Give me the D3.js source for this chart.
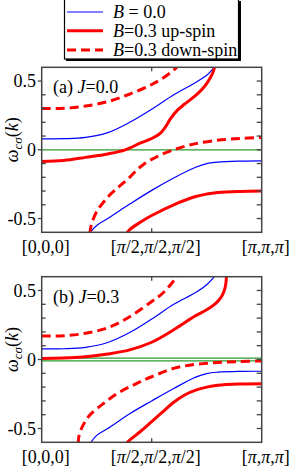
<!DOCTYPE html>
<html>
<head>
<meta charset="utf-8">
<script src="https://cdn.jsdelivr.net/npm/d3@7"></script>
<style>
  body { margin: 0; background: #fff; }
  svg { display: block; }
  text { font-family: "Liberation Serif", "Times New Roman", serif; font-size: 18px; fill: #000; }
</style>
</head>
<body>
<div id="chart"></div>
<script>
// k is given as a fraction of pi along [0,0,0] -> [pi,pi,pi]
var xTicks = [0, 0.5, 1];
var xTickLabels = ["[0,0,0]", "[π/2,π/2,π/2]", "[π,π,π]"];
var yMajor = [-0.5, 0, 0.5];
var yMajorLabels = ["-0.5", "0", "0.5"];
var yMinor = [-0.4, -0.3, -0.2, -0.1, 0.1, 0.2, 0.3, 0.4];

// (a) J = 0.0
var a_B0_up = [[0,0.08],[0.1,0.081],[0.2,0.09],[0.3,0.125],[0.4,0.2],[0.5,0.295],[0.6,0.4],[0.7,0.49],[0.75,0.542],[0.79,0.61]];
var a_B0_lo = [[0.215,-0.61],[0.25,-0.55],[0.3,-0.5],[0.4,-0.395],[0.5,-0.295],[0.6,-0.205],[0.7,-0.127],[0.75,-0.1],[0.8,-0.089],[0.9,-0.082],[1,-0.08]];
var a_upSpin_up = [[0,-0.085],[0.1,-0.078],[0.2,-0.055],[0.3,-0.03],[0.38,0],[0.45,0.05],[0.5,0.082],[0.535,0.115],[0.56,0.16],[0.585,0.225],[0.615,0.285],[0.65,0.333],[0.7,0.395],[0.74,0.46],[0.765,0.52],[0.78,0.57],[0.787,0.61]];
var a_upSpin_lo = [[0.384,-0.61],[0.4,-0.58],[0.45,-0.525],[0.5,-0.478],[0.6,-0.4],[0.7,-0.34],[0.75,-0.322],[0.8,-0.311],[0.9,-0.303],[1,-0.3]];
var a_dnSpin_up = [[0,0.3],[0.1,0.302],[0.2,0.318],[0.3,0.35],[0.4,0.405],[0.5,0.475],[0.55,0.52],[0.6,0.58],[0.62,0.61]];
var a_dnSpin_lo = [[0.219,-0.61],[0.225,-0.55],[0.25,-0.45],[0.3,-0.345],[0.35,-0.27],[0.4,-0.2],[0.43,-0.15],[0.46,-0.11],[0.5,-0.07],[0.55,-0.03],[0.6,0],[0.65,0.025],[0.7,0.045],[0.8,0.07],[0.9,0.082],[1,0.09]];
var a_zero = [0];

// (b) J = 0.3
var b_B0_up = [[0,0.077],[0.1,0.078],[0.2,0.088],[0.3,0.123],[0.4,0.195],[0.5,0.293],[0.6,0.4],[0.7,0.485],[0.75,0.542],[0.79,0.61]];
var b_B0_lo = [[0.22,-0.61],[0.25,-0.55],[0.3,-0.5],[0.4,-0.393],[0.5,-0.3],[0.6,-0.21],[0.7,-0.128],[0.75,-0.102],[0.8,-0.092],[0.9,-0.086],[1,-0.085]];
var b_upSpin_up = [[0,0.008],[0.1,0.01],[0.2,0.02],[0.3,0.04],[0.4,0.07],[0.5,0.125],[0.6,0.215],[0.7,0.318],[0.75,0.36],[0.79,0.405],[0.815,0.45],[0.83,0.5],[0.837,0.55],[0.84,0.61]];
var b_upSpin_lo = [[0.384,-0.61],[0.4,-0.585],[0.45,-0.52],[0.5,-0.45],[0.55,-0.38],[0.6,-0.31],[0.65,-0.257],[0.7,-0.222],[0.75,-0.2],[0.8,-0.186],[0.9,-0.177],[1,-0.175]];
var b_dnSpin_up = [[0,0.17],[0.1,0.172],[0.2,0.19],[0.3,0.23],[0.4,0.31],[0.5,0.42],[0.55,0.48],[0.6,0.57],[0.62,0.61]];
var b_dnSpin_lo = [[0.166,-0.61],[0.17,-0.55],[0.19,-0.47],[0.22,-0.4],[0.28,-0.32],[0.35,-0.24],[0.43,-0.175],[0.5,-0.125],[0.6,-0.064],[0.7,-0.035],[0.8,-0.022],[0.9,-0.015],[1,-0.01]];
var b_zero = [0.01, -0.01];

var legendLabels = [["B", " = 0.0"], ["B", "=0.3 up-spin"], ["B", "=0.3 down-spin"]];

var styles = {
  B0: { color: "#0000ff", width: 1.2, dash: null },
  up: { color: "#ff0000", width: 3, dash: null },
  dn: { color: "#ff0000", width: 3, dash: "9,5" }
};

var panels = [
  { id: "a", label: "(a) ", J: "=0.0", top: 67.3, bottom: 232.3, zero: a_zero,
    series: [[a_B0_up,"B0"],[a_B0_lo,"B0"],[a_upSpin_up,"up"],[a_upSpin_lo,"up"],[a_dnSpin_up,"dn"],[a_dnSpin_lo,"dn"]] },
  { id: "b", label: "(b) ", J: "=0.3", top: 276.7, bottom: 442.3, zero: b_zero,
    series: [[b_B0_up,"B0"],[b_B0_lo,"B0"],[b_upSpin_up,"up"],[b_upSpin_lo,"up"],[b_dnSpin_up,"dn"],[b_dnSpin_lo,"dn"]] }
];

var width = 291, height = 469;
var left = 41.7, right = 261.7;

var svg = d3.select("#chart").append("svg")
  .attr("width", width).attr("height", height);

var x = d3.scaleLinear().domain([0, 1]).range([left, right]);

panels.forEach(function(p) {
  var y = d3.scaleLinear().domain([-0.6, 0.6]).range([p.bottom, p.top]);
  var g = svg.append("g");

  g.append("clipPath").attr("id", "clip-" + p.id)
    .append("rect").attr("x", left).attr("y", p.top)
    .attr("width", right - left).attr("height", p.bottom - p.top);

  var plot = g.append("g").attr("clip-path", "url(#clip-" + p.id + ")");

  plot.selectAll("line.zero").data(p.zero).enter()
    .append("line").attr("class", "zero")
    .attr("x1", left).attr("x2", right)
    .attr("y1", function(d) { return y(d); })
    .attr("y2", function(d) { return y(d); })
    .attr("stroke", "#2b9a2b").attr("stroke-width", 1.3);

  var line = d3.line()
    .x(function(d) { return x(d[0]); })
    .y(function(d) { return y(d[1]); })
    .curve(d3.curveCatmullRom.alpha(0.5));

  plot.selectAll("path.band").data(p.series).enter()
    .append("path").attr("class", "band")
    .attr("d", function(d) { return line(d[0]); })
    .attr("fill", "none")
    .attr("stroke", function(d) { return styles[d[1]].color; })
    .attr("stroke-width", function(d) { return styles[d[1]].width; })
    .attr("stroke-dasharray", function(d) { return styles[d[1]].dash; });

  // frame
  g.append("rect").attr("x", left).attr("y", p.top)
    .attr("width", right - left).attr("height", p.bottom - p.top)
    .attr("fill", "none").attr("stroke", "#444").attr("stroke-width", 1.5);

  // y ticks: left majors outward, minors inward; right all inward
  g.selectAll("line.ymaj").data(yMajor).enter().append("line")
    .attr("x1", left - 4).attr("x2", left)
    .attr("y1", function(d) { return y(d); }).attr("y2", function(d) { return y(d); })
    .attr("stroke", "#444").attr("stroke-width", 1.3);
  g.selectAll("line.ymin").data(yMinor).enter().append("line")
    .attr("x1", left).attr("x2", left + 4)
    .attr("y1", function(d) { return y(d); }).attr("y2", function(d) { return y(d); })
    .attr("stroke", "#444").attr("stroke-width", 1.3);
  g.selectAll("line.yright").data(yMajor.concat(yMinor)).enter().append("line")
    .attr("x1", right - 5).attr("x2", right)
    .attr("y1", function(d) { return y(d); }).attr("y2", function(d) { return y(d); })
    .attr("stroke", "#444").attr("stroke-width", 1.3);

  // middle k tick top and bottom
  g.append("line").attr("x1", x(0.5)).attr("x2", x(0.5))
    .attr("y1", p.top).attr("y2", p.top + 4).attr("stroke", "#444").attr("stroke-width", 1.3);
  g.append("line").attr("x1", x(0.5)).attr("x2", x(0.5))
    .attr("y1", p.bottom - 4).attr("y2", p.bottom).attr("stroke", "#444").attr("stroke-width", 1.3);

  g.selectAll("text.ylab").data(yMajor).enter().append("text")
    .attr("x", 36).attr("y", function(d) { return y(d) + 6; })
    .attr("text-anchor", "end")
    .text(function(d, i) { return yMajorLabels[i]; });

  // k labels, pi in italics
  xTicks.forEach(function(t, i) {
    var txt = g.append("text").attr("x", x(t) + 4).attr("y", p.bottom + 20.5)
      .attr("text-anchor", "middle");
    xTickLabels[i].split(/(π)/).forEach(function(s) {
      if (s === "") return;
      txt.append("tspan").style("font-style", s === "π" ? "italic" : null).text(s);
    });
  });

  // panel label
  var pl = g.append("text").attr("x", 53).attr("y", p.top + 26);
  pl.append("tspan").text(p.label);
  pl.append("tspan").style("font-style", "italic").text("J");
  pl.append("tspan").text(p.J);

  // y axis title
  var yt = g.append("text")
    .attr("transform", "translate(18," + ((p.top + p.bottom) / 2 - 10) + ") rotate(-90)")
    .attr("text-anchor", "middle");
  yt.append("tspan").style("font-style", "italic").text("ω");
  yt.append("tspan").attr("dy", 4).style("font-size", "13px").style("font-style", "italic").text("cσ");
  yt.append("tspan").attr("dy", -4).text("(");
  yt.append("tspan").style("font-style", "italic").text("k");
  yt.append("tspan").text(")");
});

// legend
var lg = svg.append("g");
lg.append("rect").attr("x", 66).attr("y", 1).attr("width", 175).attr("height", 60).attr("fill", "#000");
lg.append("rect").attr("x", 64.5).attr("y", -1).attr("width", 174).attr("height", 60)
  .attr("fill", "#fff").attr("stroke", "#000").attr("stroke-width", 1.2);
var legendKeys = ["B0", "up", "dn"];
var legendY = [12, 30.7, 50];
legendKeys.forEach(function(k, i) {
  lg.append("line").attr("x1", 67).attr("x2", 103)
    .attr("y1", legendY[i]).attr("y2", legendY[i])
    .attr("stroke", styles[k].color).attr("stroke-width", styles[k].width)
    .attr("stroke-dasharray", styles[k].dash);
  var t = lg.append("text").attr("x", 113).attr("y", legendY[i] + 6);
  t.append("tspan").style("font-style", "italic").text(legendLabels[i][0]);
  t.append("tspan").text(legendLabels[i][1]);
});
</script>
</body>
</html>
